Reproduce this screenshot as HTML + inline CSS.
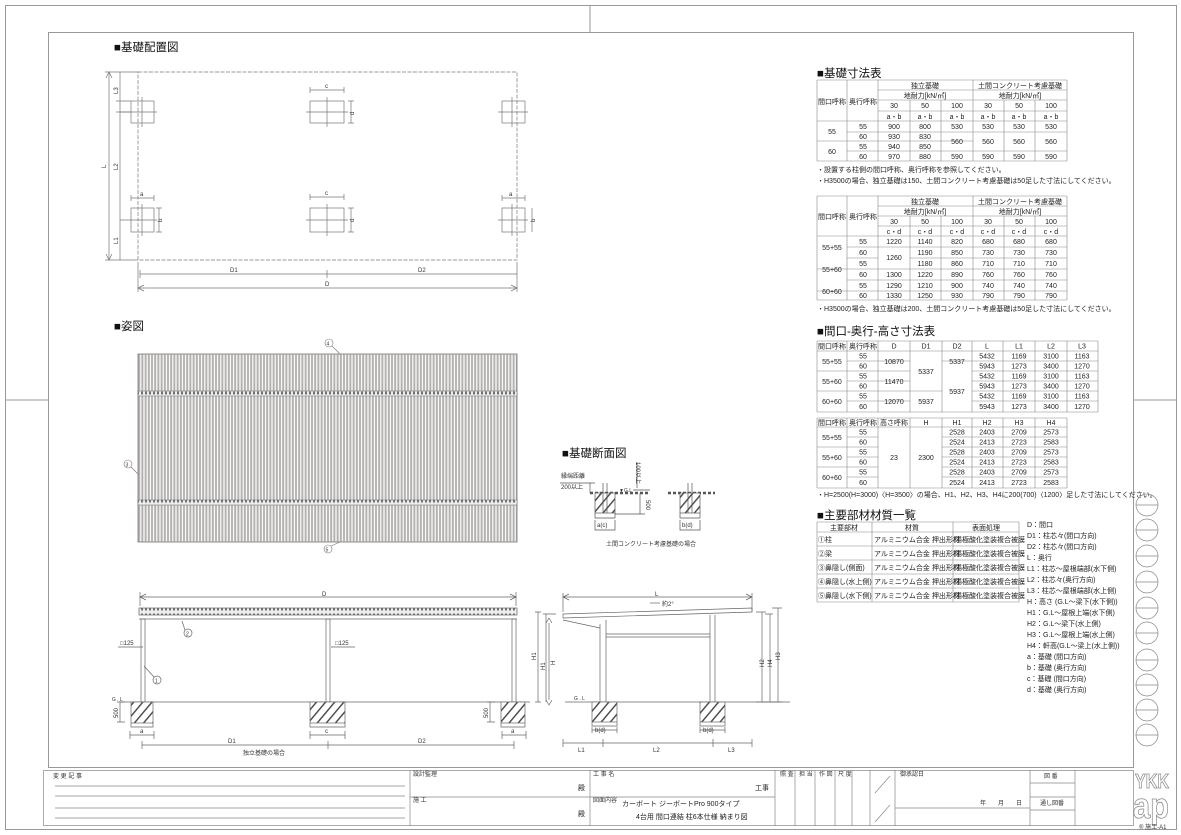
<!DOCTYPE html>
<html><head><meta charset="utf-8"><style>
html,body{margin:0;padding:0;background:#fff;}
svg{display:block;font-family:"Liberation Sans","Noto Sans CJK JP",sans-serif;}
.t{font-size:7px;fill:#222;}
.h{font-size:11.5px;fill:#111;}
.s{font-size:6px;fill:#333;}
</style></head><body>
<svg width="1181" height="835" viewBox="0 0 1181 835" xmlns="http://www.w3.org/2000/svg">
<defs>
<pattern id="str" width="3.2" height="10" patternUnits="userSpaceOnUse"><rect width="3.2" height="10" fill="#fff"/><rect x="0.6" width="2" height="10" fill="#b3b0ae"/></pattern>
<pattern id="hat" width="7" height="7" patternUnits="userSpaceOnUse" patternTransform="rotate(40)"><rect width="7" height="7" fill="#fff"/><rect width="1.4" height="7" fill="#444"/></pattern>
<pattern id="dots" width="4" height="6" patternUnits="userSpaceOnUse"><rect width="4" height="6" fill="#eee"/><rect x="1.2" y="1.5" width="1.6" height="3" fill="#555"/></pattern>
</defs>
<g fill="none" stroke="#999" stroke-width="1">
<rect x="5.5" y="5.5" width="1171" height="824"/>
<rect x="48.5" y="32.5" width="1085" height="735"/>
<line x1="590" y1="5" x2="590" y2="32"/><line x1="5" y1="400" x2="48" y2="400"/><line x1="1133" y1="400" x2="1176" y2="400"/>
</g>
<!-- headings -->
<text x="114" y="51" class="h">■基礎配置図</text>
<text x="114" y="330" class="h">■姿図</text>
<text x="562" y="457" class="h">■基礎断面図</text>
<text x="817" y="77" class="h">■基礎寸法表</text>
<text x="817" y="335" class="h">■間口-奥行-高さ寸法表</text>
<text x="817" y="519" class="h">■主要部材材質一覧</text>

<!-- Plan -->
<g stroke="#777" stroke-width="0.7" fill="none">
<rect x="138" y="72" width="379" height="188" stroke-dasharray="4,1.5"/>
<rect x="131" y="101" width="23" height="22"/><rect x="131" y="208" width="23" height="24"/>
<rect x="310" y="101" width="34" height="22"/><rect x="310" y="208" width="34" height="24"/>
<rect x="502" y="101" width="23" height="22"/><rect x="502" y="208" width="23" height="24"/>
<path d="M120 112H157M142 97V127M120 220H157M142 204V236M306 112H348M327 97V127M306 220H348M327 204V236M498 112H528M512 97V127M498 220H528M512 204V236"/>
<path d="M109 72V260M105 72H138M105 260H138M120 72V260M116 101H131M116 112H131"/>
<path d="M131 198H154M131 195V201M154 195V201M310 90H344M310 87V93M344 87V93M310 197H344M310 194V200M344 194V200M502 198H525M502 195V201M525 195V201"/>
<path d="M159 208V232M156 208H162M156 232H162M351 101V123M348 101H354M348 123H354M351 208V232M348 208H354M348 232H354M532 208V232"/>
<path d="M140 274H517M140 270V278M327 270V278M517 270V278M138 288H517M138 262V292M517 262V292"/>
<path d="M106 78L109 72L112 78M106 254L109 260L112 254M144 285L138 288L144 291M511 285L517 288L511 291"/>
</g>
<g class="s">
<text x="106" y="168" transform="rotate(-90 106 168)">L</text>
<text x="118" y="94" transform="rotate(-90 118 94)">L3</text>
<text x="118" y="170" transform="rotate(-90 118 170)">L2</text>
<text x="118" y="244" transform="rotate(-90 118 244)">L1</text>
<text x="140" y="196">a</text><text x="325" y="88">c</text><text x="325" y="195">c</text><text x="509" y="196">a</text>
<text x="162" y="222" transform="rotate(-90 162 222)">b</text>
<text x="354" y="115" transform="rotate(-90 354 115)">d</text><text x="354" y="222" transform="rotate(-90 354 222)">d</text>
<text x="535" y="222" transform="rotate(-90 535 222)">b</text>
<text x="230" y="272">D1</text><text x="418" y="272">D2</text><text x="325" y="286">D</text>
</g>

<!-- Roof view -->
<rect x="138" y="354" width="379" height="188" fill="url(#str)" stroke="#777" stroke-width="0.8"/>
<rect x="138" y="391" width="379" height="5" fill="url(#dots)" stroke="#666" stroke-width="0.5"/>
<rect x="138" y="500" width="379" height="5" fill="url(#dots)" stroke="#666" stroke-width="0.5"/>
<g stroke="#777" stroke-width="0.6" fill="none">
<circle cx="329" cy="343" r="4"/><line x1="332" y1="346" x2="340" y2="354"/>
<circle cx="128" cy="464" r="4"/><line x1="131" y1="467" x2="138" y2="474"/>
<circle cx="328" cy="549" r="4"/><line x1="331" y1="546" x2="340" y2="542"/>
</g>
<g class="s"><text x="326.5" y="345.5" font-size="5">4</text><text x="125.5" y="466.5" font-size="5">3</text><text x="325.5" y="551.5" font-size="5">5</text></g>

<!-- Front elevation -->
<g stroke="#666" stroke-width="0.7" fill="none">
<path d="M140 597H516M146 594L140 597L146 600M510 594L516 597L510 600M140 592V606M516 592V606"/>
<rect x="139" y="608" width="378" height="7" fill="url(#dots)"/>
<path d="M139 619H517"/>
<rect x="141" y="619" width="4" height="83"/><rect x="326" y="619" width="4" height="83"/><rect x="512" y="619" width="4" height="83"/>
<path d="M120 702H530"/>
<rect x="131" y="702" width="22" height="21" fill="url(#hat)"/><rect x="310" y="702" width="35" height="21" fill="url(#hat)"/><rect x="501" y="702" width="24" height="21" fill="url(#hat)"/>
<path d="M131 723V727H153V723M310 723V727H345V723M501 723V727H525V723"/>
<path d="M120 702V722M117 702H125M117 722H125M490 702V722M487 702H495M487 722H495"/>
<path d="M130 735H154M130 731V739M154 731V739M310 735H345M310 731V739M345 731V739M502 735H526M502 731V739M526 731V739"/>
<path d="M142 745H514M142 741V749M328 741V749M514 741V749"/>
<path d="M118 647H143M331 647H355M538 612V702M535 612H541M535 702H541"/>
<circle cx="188" cy="633" r="4"/><line x1="185" y1="630" x2="182" y2="621"/>
<circle cx="157" cy="680" r="4"/><line x1="154" y1="677" x2="144" y2="666"/>
</g>
<g class="s">
<text x="322" y="596">D</text>
<text x="120" y="645">□125</text><text x="335" y="645">□125</text>
<text x="186" y="635.5" font-size="5">2</text><text x="155" y="682.5" font-size="5">1</text>
<text x="112" y="701" font-size="5">G . L</text>
<text x="118" y="718" transform="rotate(-90 118 718)">500</text>
<text x="488" y="718" transform="rotate(-90 488 718)">500</text>
<text x="140" y="733">a</text><text x="325" y="733">c</text><text x="511" y="733">a</text>
<text x="228" y="743">D1</text><text x="418" y="743">D2</text>
<text x="536" y="660" transform="rotate(-90 536 660)">H1</text>
<text x="243" y="755">独立基礎の場合</text>
</g>

<!-- Side elevation -->
<g stroke="#666" stroke-width="0.7" fill="none">
<path d="M563 597H752M569 594L563 597L569 600M746 594L752 597L746 600M563 593V612M752 593V612"/>
<path d="M563 614L752 608L752 612L563 618Z"/>
<path d="M563 620L600 628M600 624V702M606 620V702M710 615V702M715 615V702M606 634H710M606 637H710"/>
<path d="M546 614V702M543 614H556M549 623V700M546 623L549 618L552 623M546 700L549 705L552 700M565 702H790"/>
<rect x="592" y="702" width="25" height="20" fill="url(#hat)"/><rect x="700" y="702" width="25" height="20" fill="url(#hat)"/>
<path d="M592 722V726H617V722M700 722V726H725V722"/>
<path d="M762 612V702M770 614V702M778 608V702M756 612H766M756 702H782M765 614H773M772 608H782"/>
<path d="M592 730H617M592 727V733M617 727V733M700 730H725M700 727V733M725 727V733"/>
<path d="M563 743H752M563 739V747M603 739V747M713 739V747M752 739V747"/>
<path d="M650 603H660"/>
</g>
<g class="s">
<text x="655" y="596">L</text><text x="662" y="606">約2°</text>
<text x="545" y="670" transform="rotate(-90 545 670)">H1</text>
<text x="555" y="665" transform="rotate(-90 555 665)">H</text>
<text x="574" y="700" font-size="5">G . L</text>
<text x="764" y="667" transform="rotate(-90 764 667)">H2</text>
<text x="772" y="667" transform="rotate(-90 772 667)">H4</text>
<text x="780" y="660" transform="rotate(-90 780 660)">H3</text>
<text x="595" y="732">b(d)</text><text x="703" y="732">b(d)</text>
<text x="578" y="752">L1</text><text x="653" y="752">L2</text><text x="728" y="752">L3</text>
</g>

<!-- Section -->
<g stroke="#555" stroke-width="0.7" fill="none">
<path d="M590 493H650M668 493H715" stroke-width="2.5" stroke-dasharray="3,2"/>
<rect x="595" y="493" width="20" height="20" fill="url(#hat)"/><rect x="680" y="493" width="20" height="20" fill="url(#hat)"/>
<path d="M595 513V518H615V513M680 513V518H700V513"/>
<path d="M603 483V513M607 483V513M688 483V513M692 483V513"/>
<path d="M595 520V530H615V520M680 520V530H700V520"/>
<path d="M590 483V493M560 483H595M637 462V488M633 490H650M640 493V514M615 514H645"/>
</g>
<g class="s">
<text x="561" y="478">縁端距離</text><text x="561" y="489">200以上</text>
<text x="636" y="462" transform="rotate(90 636 462)">100以上</text>
<text x="646" y="500" transform="rotate(90 646 500)">500</text>
<text x="619" y="492" font-size="5">▼G.L</text>
<text x="597" y="527">a(c)</text><text x="682" y="527">b(d)</text>
<text x="606" y="546">土間コンクリート考慮基礎の場合</text>
</g>

<!-- Table 1 -->
<g stroke="#888" stroke-width="0.6" fill="none">
<path d="M817 80H1067M878 90H1067M878 100H1067M878 111H1067M817 121H1067M847 132H1067M817 141H973M847 151H1067M817 161H1067"/>
<path d="M817 80V161M847 80V161M878 80V161M910 100V161M941 100V161M973 80V161M1004 100V161M1035 100V161M1067 80V161"/>
</g>
<g class="t" text-anchor="middle">
<text x="832" y="104">間口呼称</text><text x="863" y="104">奥行呼称</text>
<text x="925" y="88">独立基礎</text><text x="1020" y="88">土間コンクリート考慮基礎</text>
<text x="925" y="98">地耐力[kN/㎡]</text><text x="1020" y="98">地耐力[kN/㎡]</text>
<text x="894" y="108">30</text><text x="925" y="108">50</text><text x="957" y="108">100</text><text x="988" y="108">30</text><text x="1019" y="108">50</text><text x="1051" y="108">100</text>
<text x="894" y="119">a・b</text><text x="925" y="119">a・b</text><text x="957" y="119">a・b</text><text x="988" y="119">a・b</text><text x="1019" y="119">a・b</text><text x="1051" y="119">a・b</text>
<text x="832" y="134">55</text><text x="832" y="154">60</text>
<text x="863" y="129">55</text><text x="863" y="139">60</text><text x="863" y="149">55</text><text x="863" y="159">60</text>
<text x="894" y="129">900</text><text x="925" y="129">800</text><text x="957" y="129">530</text><text x="988" y="129">530</text><text x="1019" y="129">530</text><text x="1051" y="129">530</text>
<text x="894" y="139">930</text><text x="925" y="139">830</text>
<text x="957" y="144">560</text><text x="988" y="144">560</text><text x="1019" y="144">560</text><text x="1051" y="144">560</text>
<text x="894" y="149">940</text><text x="925" y="149">850</text>
<text x="894" y="159">970</text><text x="925" y="159">880</text><text x="957" y="159">590</text><text x="988" y="159">590</text><text x="1019" y="159">590</text><text x="1051" y="159">590</text>
</g>
<text x="817" y="172" class="t">・設置する柱側の間口呼称、奥行呼称を参照してください。</text>
<text x="817" y="183" class="t">・H3500の場合、独立基礎は150、土間コンクリート考慮基礎は50足した寸法にしてください。</text>

<!-- Table 2 -->
<g stroke="#888" stroke-width="0.6" fill="none">
<path d="M817 196H1067M878 206H1067M878 216H1067M878 226H1067M817 236H1067M847 247H910M910 247H1067M847 258H878M910 258H1067M817 269H1067M847 280H1067M817 291H1067M817 300H1067"/>
<path d="M817 196V300M847 196V300M878 196V300M910 216V300M941 216V300M973 196V300M1004 216V300M1035 216V300M1067 196V300"/>
</g>
<g class="t" text-anchor="middle">
<text x="832" y="219">間口呼称</text><text x="863" y="219">奥行呼称</text>
<text x="925" y="204">独立基礎</text><text x="1020" y="204">土間コンクリート考慮基礎</text>
<text x="925" y="214">地耐力[kN/㎡]</text><text x="1020" y="214">地耐力[kN/㎡]</text>
<text x="894" y="224">30</text><text x="925" y="224">50</text><text x="957" y="224">100</text><text x="988" y="224">30</text><text x="1019" y="224">50</text><text x="1051" y="224">100</text>
<text x="894" y="234">c・d</text><text x="925" y="234">c・d</text><text x="957" y="234">c・d</text><text x="988" y="234">c・d</text><text x="1019" y="234">c・d</text><text x="1051" y="234">c・d</text>
<text x="832" y="250">55+55</text><text x="832" y="272">55+60</text><text x="832" y="294">60+60</text>
<text x="863" y="244">55</text><text x="863" y="255">60</text><text x="863" y="266">55</text><text x="863" y="277">60</text><text x="863" y="288">55</text><text x="863" y="298">60</text>
<text x="894" y="244">1220</text><text x="925" y="244">1140</text><text x="957" y="244">820</text><text x="988" y="244">680</text><text x="1019" y="244">680</text><text x="1051" y="244">680</text>
<text x="894" y="260">1260</text><text x="925" y="255">1190</text><text x="957" y="255">850</text><text x="988" y="255">730</text><text x="1019" y="255">730</text><text x="1051" y="255">730</text>
<text x="925" y="266">1180</text><text x="957" y="266">860</text><text x="988" y="266">710</text><text x="1019" y="266">710</text><text x="1051" y="266">710</text>
<text x="894" y="277">1300</text><text x="925" y="277">1220</text><text x="957" y="277">890</text><text x="988" y="277">760</text><text x="1019" y="277">760</text><text x="1051" y="277">760</text>
<text x="894" y="288">1290</text><text x="925" y="288">1210</text><text x="957" y="288">900</text><text x="988" y="288">740</text><text x="1019" y="288">740</text><text x="1051" y="288">740</text>
<text x="894" y="298">1330</text><text x="925" y="298">1250</text><text x="957" y="298">930</text><text x="988" y="298">790</text><text x="1019" y="298">790</text><text x="1051" y="298">790</text>
</g>
<text x="817" y="311" class="t">・H3500の場合、独立基礎は200、土間コンクリート考慮基礎は50足した寸法にしてください。</text>

<!-- Table 3 -->
<g stroke="#888" stroke-width="0.6" fill="none">
<path d="M817 341H1098M817 351H1098M847 361H910M942 361H1098M817 371H910M972 371H1098M847 381H910M972 381H1098M817 391H942M972 391H1098M847 401H910M972 401H1098M817 412H1098"/>
<path d="M817 341V412M847 341V412M878 341V412M910 341V412M942 341V412M972 341V412M1003 341V412M1035 341V412M1067 341V412M1098 341V412"/>
</g>
<g class="t" text-anchor="middle">
<text x="832" y="348.5">間口呼称</text><text x="863" y="348.5">奥行呼称</text><text x="894" y="348.5">D</text><text x="926" y="348.5">D1</text><text x="957" y="348.5">D2</text><text x="987" y="348.5">L</text><text x="1019" y="348.5">L1</text><text x="1051" y="348.5">L2</text><text x="1082" y="348.5">L3</text>
<text x="832" y="364">55+55</text><text x="832" y="384">55+60</text><text x="832" y="404">60+60</text>
<text x="863" y="358.5">55</text><text x="863" y="368.5">60</text><text x="863" y="378.5">55</text><text x="863" y="388.5">60</text><text x="863" y="398.5">55</text><text x="863" y="409">60</text>
<text x="894" y="364">10870</text><text x="894" y="384">11470</text><text x="894" y="404">12070</text>
<text x="926" y="374">5337</text><text x="926" y="404">5937</text>
<text x="957" y="364">5337</text><text x="957" y="394">5937</text>
<text x="987" y="358.5">5432</text><text x="1019" y="358.5">1169</text><text x="1051" y="358.5">3100</text><text x="1082" y="358.5">1163</text>
<text x="987" y="368.5">5943</text><text x="1019" y="368.5">1273</text><text x="1051" y="368.5">3400</text><text x="1082" y="368.5">1270</text>
<text x="987" y="378.5">5432</text><text x="1019" y="378.5">1169</text><text x="1051" y="378.5">3100</text><text x="1082" y="378.5">1163</text>
<text x="987" y="388.5">5943</text><text x="1019" y="388.5">1273</text><text x="1051" y="388.5">3400</text><text x="1082" y="388.5">1270</text>
<text x="987" y="398.5">5432</text><text x="1019" y="398.5">1169</text><text x="1051" y="398.5">3100</text><text x="1082" y="398.5">1163</text>
<text x="987" y="409">5943</text><text x="1019" y="409">1273</text><text x="1051" y="409">3400</text><text x="1082" y="409">1270</text>
</g>

<!-- Table 4 -->
<g stroke="#888" stroke-width="0.6" fill="none">
<path d="M817 418H1067M817 427H1067M847 437H878M942 437H1067M817 447H878M942 447H1067M847 457H878M942 457H1067M817 467H878M942 467H1067M847 477H878M942 477H1067M817 488H1067"/>
<path d="M817 418V488M847 418V488M878 418V488M910 418V488M942 418V488M972 418V488M1003 418V488M1035 418V488M1067 418V488"/>
</g>
<g class="t" text-anchor="middle">
<text x="832" y="425">間口呼称</text><text x="863" y="425">奥行呼称</text><text x="894" y="425">高さ呼称</text><text x="926" y="425">H</text><text x="957" y="425">H1</text><text x="987" y="425">H2</text><text x="1019" y="425">H3</text><text x="1051" y="425">H4</text>
<text x="832" y="440">55+55</text><text x="832" y="460">55+60</text><text x="832" y="480">60+60</text>
<text x="863" y="434.5">55</text><text x="863" y="444.5">60</text><text x="863" y="454.5">55</text><text x="863" y="464.5">60</text><text x="863" y="474.5">55</text><text x="863" y="485">60</text>
<text x="894" y="460">23</text><text x="926" y="460">2300</text>
<text x="957" y="434.5">2528</text><text x="987" y="434.5">2403</text><text x="1019" y="434.5">2709</text><text x="1051" y="434.5">2573</text>
<text x="957" y="444.5">2524</text><text x="987" y="444.5">2413</text><text x="1019" y="444.5">2723</text><text x="1051" y="444.5">2583</text>
<text x="957" y="454.5">2528</text><text x="987" y="454.5">2403</text><text x="1019" y="454.5">2709</text><text x="1051" y="454.5">2573</text>
<text x="957" y="464.5">2524</text><text x="987" y="464.5">2413</text><text x="1019" y="464.5">2723</text><text x="1051" y="464.5">2583</text>
<text x="957" y="474.5">2528</text><text x="987" y="474.5">2403</text><text x="1019" y="474.5">2709</text><text x="1051" y="474.5">2573</text>
<text x="957" y="485">2524</text><text x="987" y="485">2413</text><text x="1019" y="485">2723</text><text x="1051" y="485">2583</text>
</g>
<text x="817" y="497" class="t">・H=2500(H=3000)〈H=3500〉の場合、H1、H2、H3、H4に200(700)〈1200〉足した寸法にしてください。</text>

<!-- Table 5 -->
<g stroke="#888" stroke-width="0.6" fill="none">
<path d="M817 522H1019M817 532H1019M817 546H1019M817 560H1019M817 574H1019M817 588H1019M817 602H1019"/>
<path d="M817 522V602M872 522V602M953 522V602M1019 522V602"/>
</g>
<g class="t">
<text x="844" y="530" text-anchor="middle">主要部材</text><text x="912" y="530" text-anchor="middle">材質</text><text x="986" y="530" text-anchor="middle">表面処理</text>
<text x="818" y="542">①柱</text><text x="818" y="556">②梁</text><text x="818" y="570">③鼻隠し(側面)</text><text x="818" y="584">④鼻隠し(水上側)</text><text x="818" y="598">⑤鼻隠し(水下側)</text>
<text x="874" y="542">アルミニウム合金 押出形材</text><text x="874" y="556">アルミニウム合金 押出形材</text><text x="874" y="570">アルミニウム合金 押出形材</text><text x="874" y="584">アルミニウム合金 押出形材</text><text x="874" y="598">アルミニウム合金 押出形材</text>
<text x="955" y="542">陽極酸化塗装複合被膜</text><text x="955" y="556">陽極酸化塗装複合被膜</text><text x="955" y="570">陽極酸化塗装複合被膜</text><text x="955" y="584">陽極酸化塗装複合被膜</text><text x="955" y="598">陽極酸化塗装複合被膜</text>
</g>
<g class="t">
<text x="1027" y="527">D：間口</text>
<text x="1027" y="538">D1：柱芯々(間口方向)</text>
<text x="1027" y="549">D2：柱芯々(間口方向)</text>
<text x="1027" y="560">L：奥行</text>
<text x="1027" y="571">L1：柱芯～屋根端部(水下側)</text>
<text x="1027" y="582">L2：柱芯々(奥行方向)</text>
<text x="1027" y="593">L3：柱芯～屋根端部(水上側)</text>
<text x="1027" y="604">H：高さ (G.L～梁下(水下側))</text>
<text x="1027" y="615">H1：G.L～屋根上端(水下側)</text>
<text x="1027" y="626">H2：G.L～梁下(水上側)</text>
<text x="1027" y="637">H3：G.L～屋根上端(水上側)</text>
<text x="1027" y="648">H4：軒高(G.L～梁上(水上側))</text>
<text x="1027" y="659">a：基礎 (間口方向)</text>
<text x="1027" y="670">b：基礎 (奥行方向)</text>
<text x="1027" y="681">c：基礎 (間口方向)</text>
<text x="1027" y="692">d：基礎 (奥行方向)</text>
</g>

<!-- circles -->
<g stroke="#888" stroke-width="0.7" fill="none">
<circle cx="1147" cy="505" r="11"/><line x1="1136" y1="505" x2="1158" y2="505"/>
<circle cx="1147" cy="530" r="11"/><line x1="1136" y1="530" x2="1158" y2="530"/>
<circle cx="1147" cy="556" r="11"/><line x1="1136" y1="556" x2="1158" y2="556"/>
<circle cx="1147" cy="582" r="11"/><line x1="1136" y1="582" x2="1158" y2="582"/>
<circle cx="1147" cy="608" r="11"/><line x1="1136" y1="608" x2="1158" y2="608"/>
<circle cx="1147" cy="633" r="11"/><line x1="1136" y1="633" x2="1158" y2="633"/>
<circle cx="1147" cy="660" r="11"/><line x1="1136" y1="660" x2="1158" y2="660"/>
<circle cx="1147" cy="685" r="11"/><line x1="1136" y1="685" x2="1158" y2="685"/>
<circle cx="1147" cy="710" r="11"/><line x1="1136" y1="710" x2="1158" y2="710"/>
<circle cx="1147" cy="735" r="11"/><line x1="1136" y1="735" x2="1158" y2="735"/>
</g>

<!-- title block -->
<g stroke="#888" stroke-width="0.7" fill="none">
<rect x="43.5" y="770.5" width="1090" height="55"/>
<path d="M410 770V826M590 770V826M775 770V826M795 770V826M815 770V826M835 770V826M852 770V826M870 770V826M895 770V826M1030 770V826M1075 770V826"/>
<path d="M410 797H775M1030 783H1075M1030 797H1075M1030 810H1075M895 808H1030"/>
<path d="M55 786H405M55 796H405M55 808H405M55 818H405"/>
<path d="M875 793L890 776M875 822L890 805"/>
</g>
<g class="s" font-size="5">
<text x="53" y="778">変 更 記 事</text><text x="413" y="776">設計監理</text><text x="413" y="802">施 工</text>
<text x="593" y="776">工 事 名</text><text x="593" y="802">図面内容</text>
<text x="780" y="776">照 査</text><text x="799" y="776">担 当</text><text x="819" y="776">作 図</text><text x="838" y="776">尺 度</text><text x="900" y="776">御承認日</text>
<text x="1044" y="778">図 番</text><text x="1040" y="805">通し図番</text>
<text x="980" y="805">年　　月　　日</text>
</g>
<g class="t" font-size="8">
<text x="578" y="790">殿</text><text x="578" y="816">殿</text><text x="755" y="790">工事</text>
<text x="622" y="806">カーボート ジーボートPro 900タイプ</text>
<text x="636" y="819">4台用 間口連結 柱6本仕様 納まり図</text>
</g>
<g font-family="Liberation Sans,sans-serif" stroke="#888" stroke-width="0.8" fill="#fff">
<text x="1135" y="788" font-size="20" font-weight="bold" textLength="34" lengthAdjust="spacingAndGlyphs">YKK</text>
<text x="1133" y="818" font-size="36" font-weight="bold" textLength="36" lengthAdjust="spacingAndGlyphs">ap</text>
</g>
<text x="1139" y="829" class="s">® 施工-A1</text>
</svg>
</body></html>
